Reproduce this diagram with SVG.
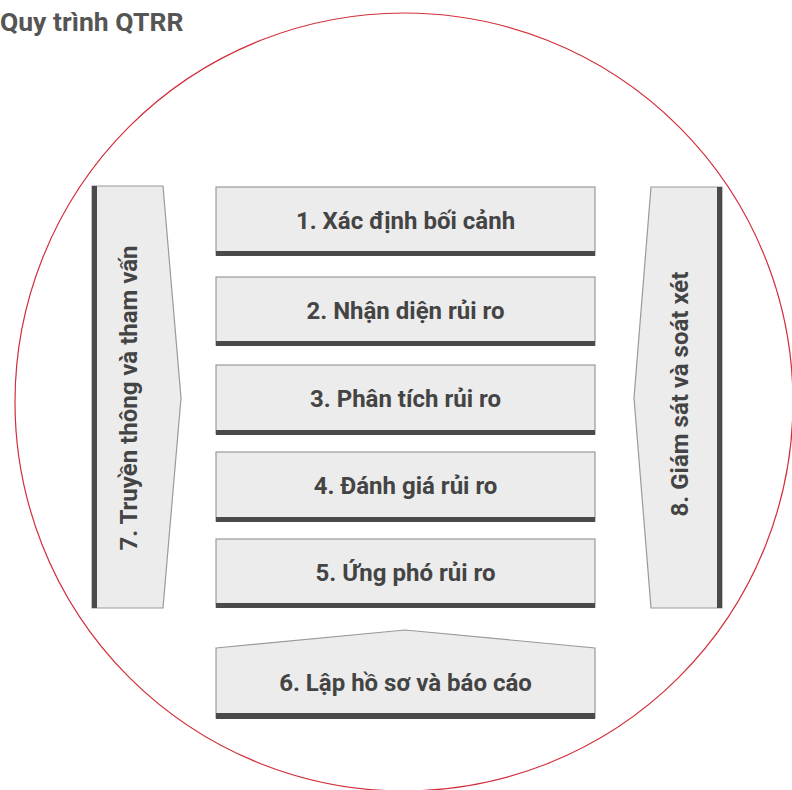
<svg xmlns="http://www.w3.org/2000/svg" width="792" height="790" viewBox="0 0 792 790">
<style>
.box{fill:#ececec;stroke:#9a9a9a;stroke-width:1.2}
.bar{fill:#4a4a4a}
.lbl{font-family:Roboto,"Noto Sans",sans-serif;font-weight:bold;font-size:24px;fill:#444;text-anchor:middle}
.title{font-family:Roboto,"Noto Sans",sans-serif;font-weight:bold;font-size:26.5px;fill:#555}
</style>
<rect width="792" height="790" fill="#fff"/>
<text class="title" x="0" y="31">Quy trình QTRR</text>
<circle cx="404" cy="402" r="389" fill="none" stroke="#d22f3a" stroke-width="1.2"/>
<g id="connectors"></g>
<g id="n1"><rect class="box" x="216" y="187" width="379" height="68"/><rect class="bar" x="216" y="251" width="379" height="5"/><text class="lbl" x="405.5" y="229">1. Xác định bối cảnh</text></g>
<g id="n2"><rect class="box" x="216" y="277" width="379" height="68"/><rect class="bar" x="216" y="341" width="379" height="5"/><text class="lbl" x="405.5" y="319">2. Nhận diện rủi ro</text></g>
<g id="n3"><rect class="box" x="216" y="365" width="379" height="69"/><rect class="bar" x="216" y="430" width="379" height="5"/><text class="lbl" x="405.5" y="407">3. Phân tích rủi ro</text></g>
<g id="n4"><rect class="box" x="216" y="452" width="379" height="69"/><rect class="bar" x="216" y="517" width="379" height="5"/><text class="lbl" x="405.5" y="494">4. Đánh giá rủi ro</text></g>
<g id="n5"><rect class="box" x="216" y="539" width="379" height="68"/><rect class="bar" x="216" y="603" width="379" height="5"/><text class="lbl" x="405.5" y="581">5. Ứng phó rủi ro</text></g>
<g id="n6"><polygon class="box" points="216,648 405,630 595,648 595,718 216,718"/><rect class="bar" x="216" y="713" width="379" height="6"/><text class="lbl" x="405.5" y="691">6. Lập hồ sơ và báo cáo</text></g>
<g id="n7"><polygon class="box" points="92,186 163,186 181,398 163,608 92,608"/><rect class="bar" x="92" y="186" width="5" height="422"/><text class="lbl" transform="translate(137,398) rotate(-90)">7. Truyền thông và tham vấn</text></g>
<g id="n8"><polygon class="box" points="651,187 722,187 722,608 651,608 634,398"/><rect class="bar" x="717" y="187" width="5" height="421"/><text class="lbl" transform="translate(688,394) rotate(-90)">8. Giám sát và soát xét</text></g>
</svg>
